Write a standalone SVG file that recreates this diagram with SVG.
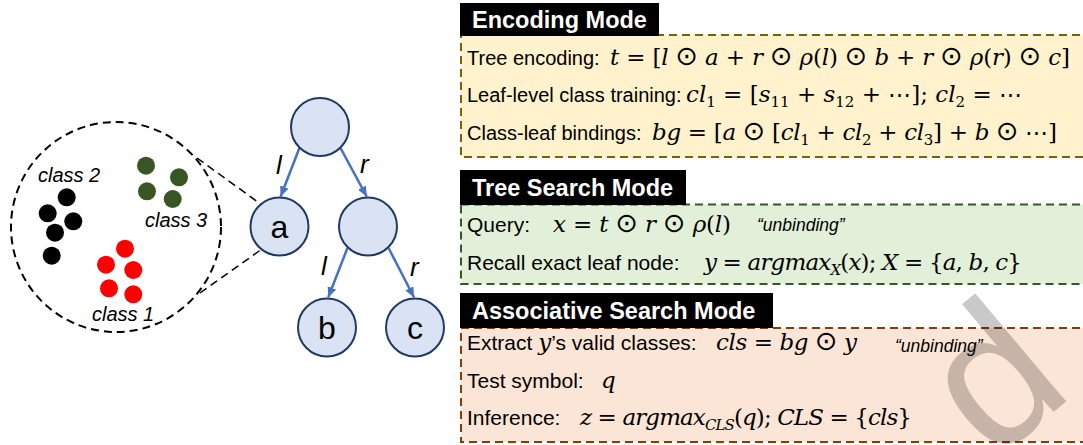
<svg xmlns="http://www.w3.org/2000/svg" width="1083" height="445" viewBox="0 0 1083 445">
  <style>
    .lbl { font-family: "Liberation Sans", Arial, sans-serif; font-size: 20px; fill: #000; }
    .lbl2 { font-family: "Liberation Sans", Arial, sans-serif; font-size: 21px; fill: #000; }
    .hdr { font-family: "Liberation Sans", Arial, sans-serif; font-weight: bold; font-size: 23.5px; fill: #fff; }
    .m { font-family: "DejaVu Serif", "Liberation Serif", serif; font-size: 23px; fill: #000; }
    .v { font-style: italic; }
    .op { font-family: "DejaVu Sans", sans-serif; font-size: 27px; }
    .sub { font-size: 15px; }
    .note { font-family: "Liberation Sans", Arial, sans-serif; font-style: italic; font-size: 17.5px; fill: #000; }
    .cls { font-family: "Liberation Sans", Arial, sans-serif; font-style: italic; font-size: 20px; fill: #000; }
    .node { fill: #dae3f3; stroke: #1f3864; stroke-width: 2; }
    .ntext { font-family: "Liberation Sans", Arial, sans-serif; font-size: 32px; fill: #000; text-anchor: middle; }
    .elbl { font-family: "Liberation Sans", Arial, sans-serif; font-style: italic; font-size: 26px; fill: #000; }
    .edge { stroke: #4472c4; stroke-width: 2.5; fill: none; marker-end: url(#arrow); }
    .dash { fill: none; stroke: #000; stroke-width: 2; stroke-dasharray: 8 5; }
    .hbox { fill: #000; }
  </style>
  <defs>
    <marker id="arrow" markerUnits="userSpaceOnUse" markerWidth="11" markerHeight="10" refX="10" refY="4.5" orient="auto">
      <path d="M0,0 L10,4.5 L0,9 z" fill="#4472c4"/>
    </marker>
  </defs>

  <rect width="1083" height="445" fill="#fff"/>

  <!-- zoomed-in view of leaf a: three classes of samples -->
  <g id="cluster-view">
    <circle cx="116" cy="227" r="105" fill="#f2f2f2" class="dash"/>
    <g fill="#000">
      <circle cx="66.7" cy="197.3" r="9"/>
      <circle cx="47.7" cy="213.3" r="9"/>
      <circle cx="73.3" cy="221.3" r="9"/>
      <circle cx="55" cy="232.7" r="9"/>
      <circle cx="51.7" cy="255.7" r="9"/>
    </g>
    <g fill="#375623">
      <circle cx="146" cy="165.7" r="9"/>
      <circle cx="179" cy="177.3" r="9"/>
      <circle cx="147" cy="191.3" r="9"/>
      <circle cx="172.7" cy="199" r="9"/>
    </g>
    <g fill="#ff0000">
      <circle cx="125" cy="248.7" r="9"/>
      <circle cx="106" cy="264.7" r="9"/>
      <circle cx="133.3" cy="270" r="9"/>
      <circle cx="109" cy="288.3" r="9"/>
      <circle cx="133.3" cy="294.3" r="9"/>
    </g>
    <text class="cls" x="38" y="182">class 2</text>
    <text class="cls" x="145" y="227">class 3</text>
    <text class="cls" x="92" y="321">class 1</text>
  </g>

  <!-- connectors: zoom lines and tree edges -->
  <g id="connectors">
    <line x1="197" y1="158" x2="262" y2="205" stroke="#000" stroke-width="1.5" stroke-dasharray="8 5"/>
    <line x1="200" y1="293" x2="262" y2="249" stroke="#000" stroke-width="1.5" stroke-dasharray="8 5"/>
    <line class="edge" x1="299.3" y1="148.3" x2="280.7" y2="196.5"/>
    <line class="edge" x1="340.7" y1="148.3" x2="366.7" y2="196.5"/>
    <line class="edge" x1="347.3" y1="248.3" x2="328.3" y2="297.3"/>
    <line class="edge" x1="388.7" y1="248.3" x2="414" y2="297.3"/>
    <text class="elbl" x="276" y="174">l</text>
    <text class="elbl" x="360" y="173">r</text>
    <text class="elbl" x="321" y="275">l</text>
    <text class="elbl" x="410" y="276">r</text>
  </g>

  <!-- tree nodes -->
  <g id="node-root">
    <circle class="node" cx="320" cy="127" r="29"/>
  </g>
  <g id="node-a">
    <circle class="node" cx="279.5" cy="226.5" r="29"/>
    <text class="ntext" x="279.5" y="237.5">a</text>
  </g>
  <g id="node-inner">
    <circle class="node" cx="368" cy="226.5" r="29"/>
  </g>
  <g id="node-b">
    <circle class="node" cx="327" cy="327.5" r="29"/>
    <text class="ntext" x="327" y="338.5">b</text>
  </g>
  <g id="node-c">
    <circle class="node" cx="415" cy="327.5" r="29"/>
    <text class="ntext" x="415" y="338.5">c</text>
  </g>

  <!-- Encoding Mode panel -->
  <g id="panel-encoding">
    <rect x="461" y="35" width="640" height="122" fill="#fff2cc" stroke="#7f6000" stroke-width="2" stroke-dasharray="8 5"/>
    <rect class="hbox" x="460" y="3" width="199" height="33"/>
    <text class="hdr" x="472" y="28">Encoding Mode</text>
    <text class="lbl" x="467" y="64.5">Tree encoding:</text>
    <text class="m" x="610" y="64.5" textLength="460" lengthAdjust="spacing"><tspan class="v">t</tspan> = [<tspan class="v">l</tspan> <tspan class="op">⊙</tspan> <tspan class="v">a</tspan> + <tspan class="v">r</tspan> <tspan class="op">⊙</tspan> <tspan class="v">ρ</tspan>(<tspan class="v">l</tspan>) <tspan class="op">⊙</tspan> <tspan class="v">b</tspan> + <tspan class="v">r</tspan> <tspan class="op">⊙</tspan> <tspan class="v">ρ</tspan>(<tspan class="v">r</tspan>) <tspan class="op">⊙</tspan> <tspan class="v">c</tspan>]</text>
    <text class="lbl" x="467" y="102">Leaf-level class training:</text>
    <text class="m" x="686" y="102" textLength="336" lengthAdjust="spacing"><tspan class="v">cl</tspan><tspan class="sub" dy="5">1</tspan><tspan dy="-5"> = [</tspan><tspan class="v">s</tspan><tspan class="sub" dy="5">11</tspan><tspan dy="-5"> + </tspan><tspan class="v">s</tspan><tspan class="sub" dy="5">12</tspan><tspan dy="-5"> + ⋯]; </tspan><tspan class="v">cl</tspan><tspan class="sub" dy="5">2</tspan><tspan dy="-5"> = ⋯</tspan></text>
    <text class="lbl" x="467" y="139.5">Class-leaf bindings:</text>
    <text class="m" x="652" y="139.5" textLength="405" lengthAdjust="spacing"><tspan class="v">bg</tspan> = [<tspan class="v">a</tspan> <tspan class="op">⊙</tspan> [<tspan class="v">cl</tspan><tspan class="sub" dy="5">1</tspan><tspan dy="-5"> + </tspan><tspan class="v">cl</tspan><tspan class="sub" dy="5">2</tspan><tspan dy="-5"> + </tspan><tspan class="v">cl</tspan><tspan class="sub" dy="5">3</tspan><tspan dy="-5">] + </tspan><tspan class="v">b</tspan> <tspan class="op">⊙</tspan> ⋯]</text>
  </g>

  <!-- Tree Search Mode panel -->
  <g id="panel-tree-search">
    <rect x="461" y="204.5" width="640" height="79.5" fill="#e2f0d9" stroke="#385723" stroke-width="2" stroke-dasharray="8 5"/>
    <rect class="hbox" x="460" y="170" width="226" height="35"/>
    <text class="hdr" x="472" y="196">Tree Search Mode</text>
    <text class="lbl2" x="467" y="232">Query:</text>
    <text class="m" x="553" y="232" textLength="178" lengthAdjust="spacing"><tspan class="v">x</tspan> = <tspan class="v">t</tspan> <tspan class="op">⊙</tspan> <tspan class="v">r</tspan> <tspan class="op">⊙</tspan> <tspan class="v">ρ</tspan>(<tspan class="v">l</tspan>)</text>
    <text class="note" x="757" y="231">“unbinding”</text>
    <text class="lbl2" x="467" y="270">Recall exact leaf node:</text>
    <text class="m" x="704" y="270" textLength="318" lengthAdjust="spacing"><tspan class="v">y</tspan> = <tspan class="v">argmax</tspan><tspan class="sub v" dy="5">X</tspan><tspan dy="-5">(</tspan><tspan class="v">x</tspan>);  <tspan class="v">X</tspan> = {<tspan class="v">a</tspan>, <tspan class="v">b</tspan>, <tspan class="v">c</tspan>}</text>
  </g>

  <!-- Associative Search Mode panel -->
  <g id="panel-associative">
    <rect x="461" y="328" width="640" height="114" fill="#fbe5d6" stroke="#843c0b" stroke-width="2" stroke-dasharray="8 5"/>
    <rect class="hbox" x="460" y="293" width="313" height="35"/>
    <text class="hdr" x="472" y="319">Associative Search Mode</text>
    <text class="lbl2" x="467" y="350">Extract <tspan class="m v">y</tspan>’s valid classes:</text>
    <text class="m" x="716" y="350" textLength="141" lengthAdjust="spacing"><tspan class="v">cls</tspan> = <tspan class="v">bg</tspan> <tspan class="op">⊙</tspan> <tspan class="v">y</tspan></text>
    <text class="note" x="895" y="352">“unbinding”</text>
    <text class="lbl2" x="467" y="388">Test symbol:</text>
    <text class="m v" x="601" y="388">q</text>
    <text class="lbl2" x="467" y="425">Inference:</text>
    <text class="m" x="580" y="425" textLength="332" lengthAdjust="spacing"><tspan class="v">z</tspan> = <tspan class="v">argmax</tspan><tspan class="sub v" dy="5">CLS</tspan><tspan dy="-5">(</tspan><tspan class="v">q</tspan>);  <tspan class="v">CLS</tspan> = {<tspan class="v">cls</tspan>}</text>
  </g>

  <!-- faint diagonal letter over the lower right corner -->
  <text x="0" y="0" transform="translate(1076,393) rotate(-40)" text-anchor="end" font-family="'Liberation Sans', Arial, sans-serif" font-size="195" fill="#000" fill-opacity="0.21">d</text>
</svg>
